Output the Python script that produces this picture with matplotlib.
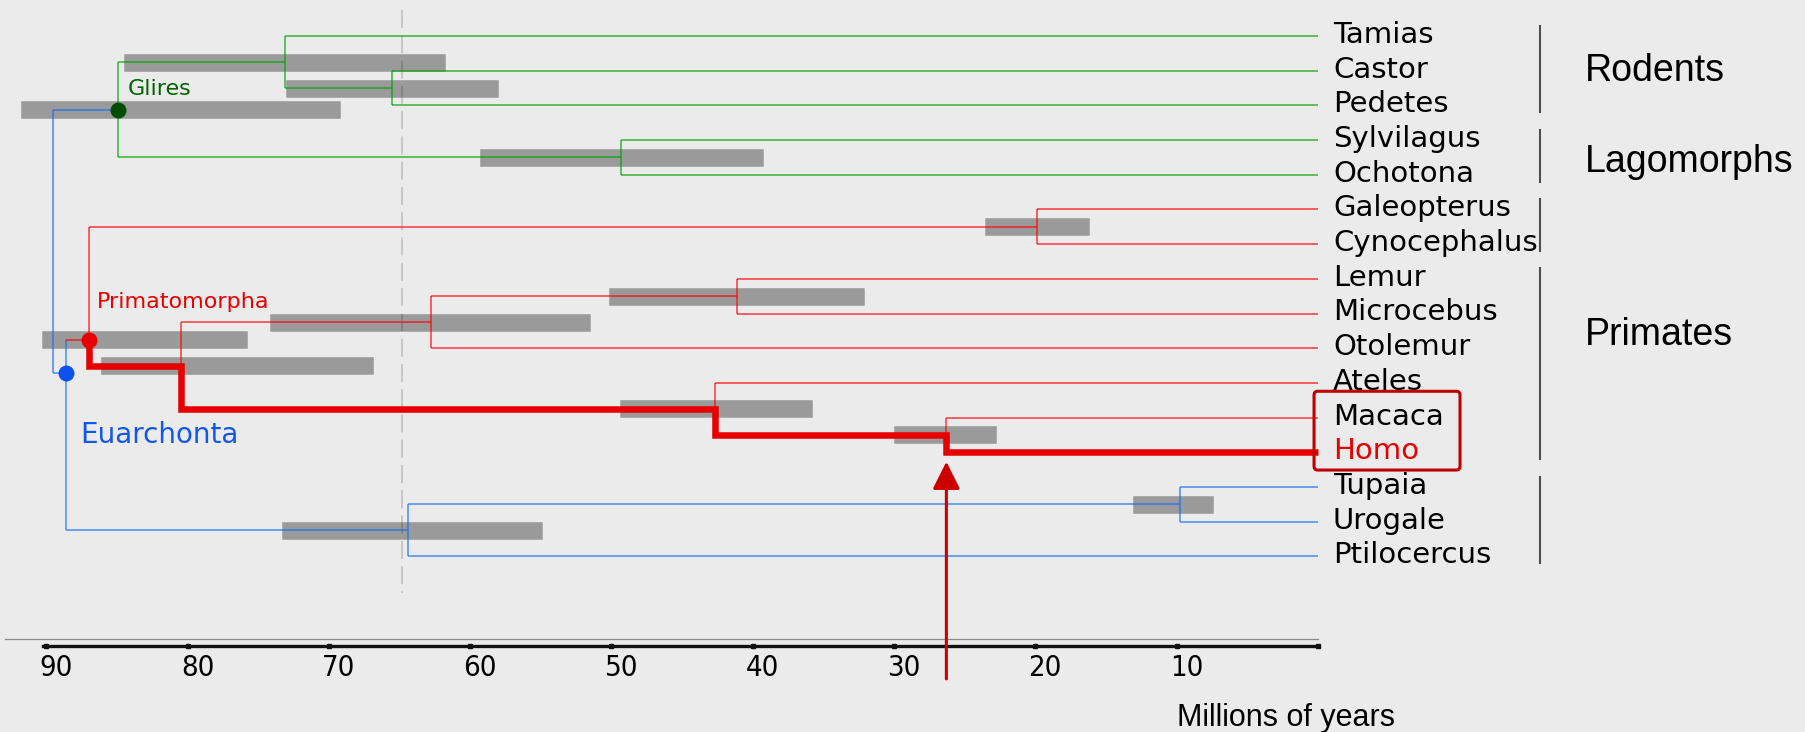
import matplotlib.pyplot as plt
from matplotlib.patches import FancyBboxPatch

# ---------------------------------------------------------------- data
tips = ['Tamias', 'Castor', 'Pedetes', 'Sylvilagus', 'Ochotona',
        'Galeopterus', 'Cynocephalus', 'Lemur', 'Microcebus', 'Otolemur',
        'Ateles', 'Macaca', 'Homo', 'Tupaia', 'Urogale', 'Ptilocercus']

node_names = ['root', 'Glires', 'Rodentia', 'CasPed', 'Lagomorpha',
              'Euarchonta', 'Primatomorpha', 'Dermoptera', 'Primates',
              'Strepsirrhini', 'Lemuriformes', 'Haplorhini', 'Catarrhini',
              'Scandentia', 'TupUro']
node_ages = [89.5, 84.9, 73.1, 65.5, 49.3,
             88.6, 87.0, 19.9, 80.5,
             62.8, 41.1, 42.7, 26.3,
             64.4, 9.8]
node_rows = [6.0, 2.13, 0.76, 1.5, 3.5,
             9.72, 8.76, 5.5, 9.5,
             8.25, 7.5, 10.75, 11.5,
             14.25, 13.5]
node_children = [['Glires', 'Euarchonta'], ['Rodentia', 'Lagomorpha'],
                 ['Tamias', 'CasPed'], ['Castor', 'Pedetes'],
                 ['Sylvilagus', 'Ochotona'], ['Primatomorpha', 'Scandentia'],
                 ['Dermoptera', 'Primates'], ['Galeopterus', 'Cynocephalus'],
                 ['Strepsirrhini', 'Haplorhini'], ['Lemuriformes', 'Otolemur'],
                 ['Lemur', 'Microcebus'], ['Ateles', 'Catarrhini'],
                 ['Macaca', 'Homo'], ['TupUro', 'Ptilocercus'],
                 ['Tupaia', 'Urogale']]
node_clade = ['blue', 'green', 'green', 'green', 'green',
              'blue', 'red', 'red', 'red',
              'red', 'red', 'red', 'red',
              'blue', 'blue']

# confidence intervals (older, younger) in Myr
ci_nodes = ['Rodentia', 'CasPed', 'Glires', 'Lagomorpha', 'Dermoptera',
            'Lemuriformes', 'Strepsirrhini', 'Primatomorpha', 'Primates',
            'Haplorhini', 'Catarrhini', 'TupUro', 'Scandentia']
ci_old = [84.5, 73.0, 91.8, 59.3, 23.6, 50.2, 74.2, 90.3, 86.1, 49.4, 30.0, 13.1, 73.3]
ci_young = [61.8, 58.0, 69.2, 39.3, 16.2, 32.1, 51.5, 75.8, 66.9, 35.8, 22.8, 7.4, 54.9]

homo_path = ['Primatomorpha', 'Primates', 'Haplorhini', 'Catarrhini', 'Homo']

groups = ['Rodents', 'Lagomorphs', '', 'Primates', '']
group_first = [0, 3, 5, 7, 13]
group_last = [2, 4, 6, 12, 15]
group_label_rows = [1.31, 3.93, None, 8.92, None]

clade_labels = ['Glires', 'Primatomorpha', 'Euarchonta']
clade_nodes = ['Glires', 'Primatomorpha', 'Euarchonta']

time_ticks = [90, 80, 70, 60, 50, 40, 30, 20, 10, 0]
kpg_age = 64.8

# ---------------------------------------------------------------- style
bg = '#ebebeb'
line_cols = {'green': '#00a000', 'red': '#ff0000', 'blue': '#146ef5'}
dot_cols = {'Glires': '#004d00', 'Primatomorpha': '#e60000', 'Euarchonta': '#0d52ee'}
label_cols = {'Glires': '#006400', 'Primatomorpha': '#e60000', 'Euarchonta': '#1258e8'}
label_size = {'Glires': 16, 'Primatomorpha': 16, 'Euarchonta': 20}
thick_red = '#e60000'

age = dict(zip(node_names, node_ages))
row = dict(zip(node_names, node_rows))
clade = dict(zip(node_names, node_clade))
for i, t in enumerate(tips):
    age[t] = 0.0
    row[t] = float(i)

fig = plt.figure(figsize=(18.06, 7.32), dpi=100, facecolor=bg)
ax = fig.add_axes([0, 0, 1, 1])
ax.set_facecolor(bg)
ax.set_xlim(93.275, -34.536)
ax.set_ylim(20.06, -1.037)
ax.axis('off')

# K-Pg boundary
ax.plot([kpg_age, kpg_age], [-0.75, 16.05], color='#c4c4c4', lw=1.3,
        linestyle=(0, (10, 4)), zorder=1)

# CI bars
for n, o, y in zip(ci_nodes, ci_old, ci_young):
    ax.barh(row[n], o - y, left=y, height=0.49, color='black', alpha=0.34,
            edgecolor='#777777', linewidth=0.6, zorder=2)

# branches
for n, ch in zip(node_names, node_children):
    rows_c = [row[c] for c in ch]
    ax.plot([age[n], age[n]], [min(rows_c), max(rows_c)],
            color=line_cols[clade[n]], alpha=0.6, lw=1.4, zorder=3,
            solid_capstyle='butt')
    for c in ch:
        if n == 'root' or c in tips:
            col = line_cols[clade[n]]
        else:
            col = line_cols[clade[c]]
        ax.plot([age[n], age[c]], [row[c], row[c]], color=col, alpha=0.6,
                lw=1.4, zorder=3, solid_capstyle='butt')

# highlighted lineage to Homo
px, py = [], []
for a, b in zip(homo_path[:-1], homo_path[1:]):
    px += [age[a], age[a], age[b]]
    py += [row[a], row[b], row[b]]
ax.plot(px, py, color=thick_red, lw=4.7, zorder=5, solid_joinstyle='miter',
        solid_capstyle='butt')

# clade dots and labels
label_pos = {'Glires': (84.2, 1.70), 'Primatomorpha': (86.4, 7.85),
             'Euarchonta': (87.6, 11.72)}
for lab, n in zip(clade_labels, clade_nodes):
    ax.plot(age[n], row[n], 'o', ms=11.5, color=dot_cols[n], mec='none',
            zorder=6)
    ax.text(label_pos[n][0], label_pos[n][1], lab, color=label_cols[n],
            fontsize=label_size[n], family='DejaVu Sans', va='baseline',
            ha='left', zorder=6)

# tip labels
for i, t in enumerate(tips):
    ax.text(-1.06, row[t] + 0.2, t, fontsize=21, family='DejaVu Sans',
            va='baseline', ha='left',
            color=thick_red if t == 'Homo' else 'black', zorder=6)

# group brackets and names
for g, f, l, gr in zip(groups, group_first, group_last, group_label_rows):
    ax.plot([-15.7, -15.7], [f - 0.3, l + 0.2], color='#4d4d4d', lw=1.5,
            zorder=4)
    if g:
        ax.text(-18.9, gr, g, fontsize=27, family='Liberation Sans',
                va='baseline', ha='left', color='black')

# box around Macaca / Homo
box = FancyBboxPatch((-10.05, 10.24), 10.33, 2.27,
                     boxstyle='round,pad=0,rounding_size=0.25',
                     fill=False, edgecolor='#c00000', lw=2.2, zorder=7,
                     mutation_aspect=0.45)
ax.add_patch(box)

# time axis
ax.plot([92.9, 0], [17.38, 17.38], color='#8a8a8a', lw=0.9, zorder=2)
ax.plot([90.2, 0], [17.58, 17.58], color='#111111', lw=2.4, zorder=3)
ax.plot(time_ticks, [17.58] * len(time_ticks), 's', color='#111111', ms=3.5,
        zorder=4)
for t in time_ticks[:-1]:
    ax.text(t - 0.7, 18.46, str(t), fontsize=21, family='DejaVu Sans',
            fontstretch='condensed', ha='center', va='baseline', color='black')
ax.text(9.98, 19.88, 'Millions of years', fontsize=22,
        family='Liberation Sans', ha='left', va='baseline', color='black')

# arrow pointing at the Homo / Macaca split
ax.annotate('', xy=(age['Catarrhini'], 12.27),
            xytext=(age['Catarrhini'], 18.53),
            arrowprops=dict(arrowstyle='-|>,head_length=0.4,head_width=0.2',
                            mutation_scale=42, color='#cc0000', lw=2.2,
                            shrinkA=0, shrinkB=0),
            zorder=8, annotation_clip=False)

fig.savefig('out.png', dpi=100, facecolor=bg)
